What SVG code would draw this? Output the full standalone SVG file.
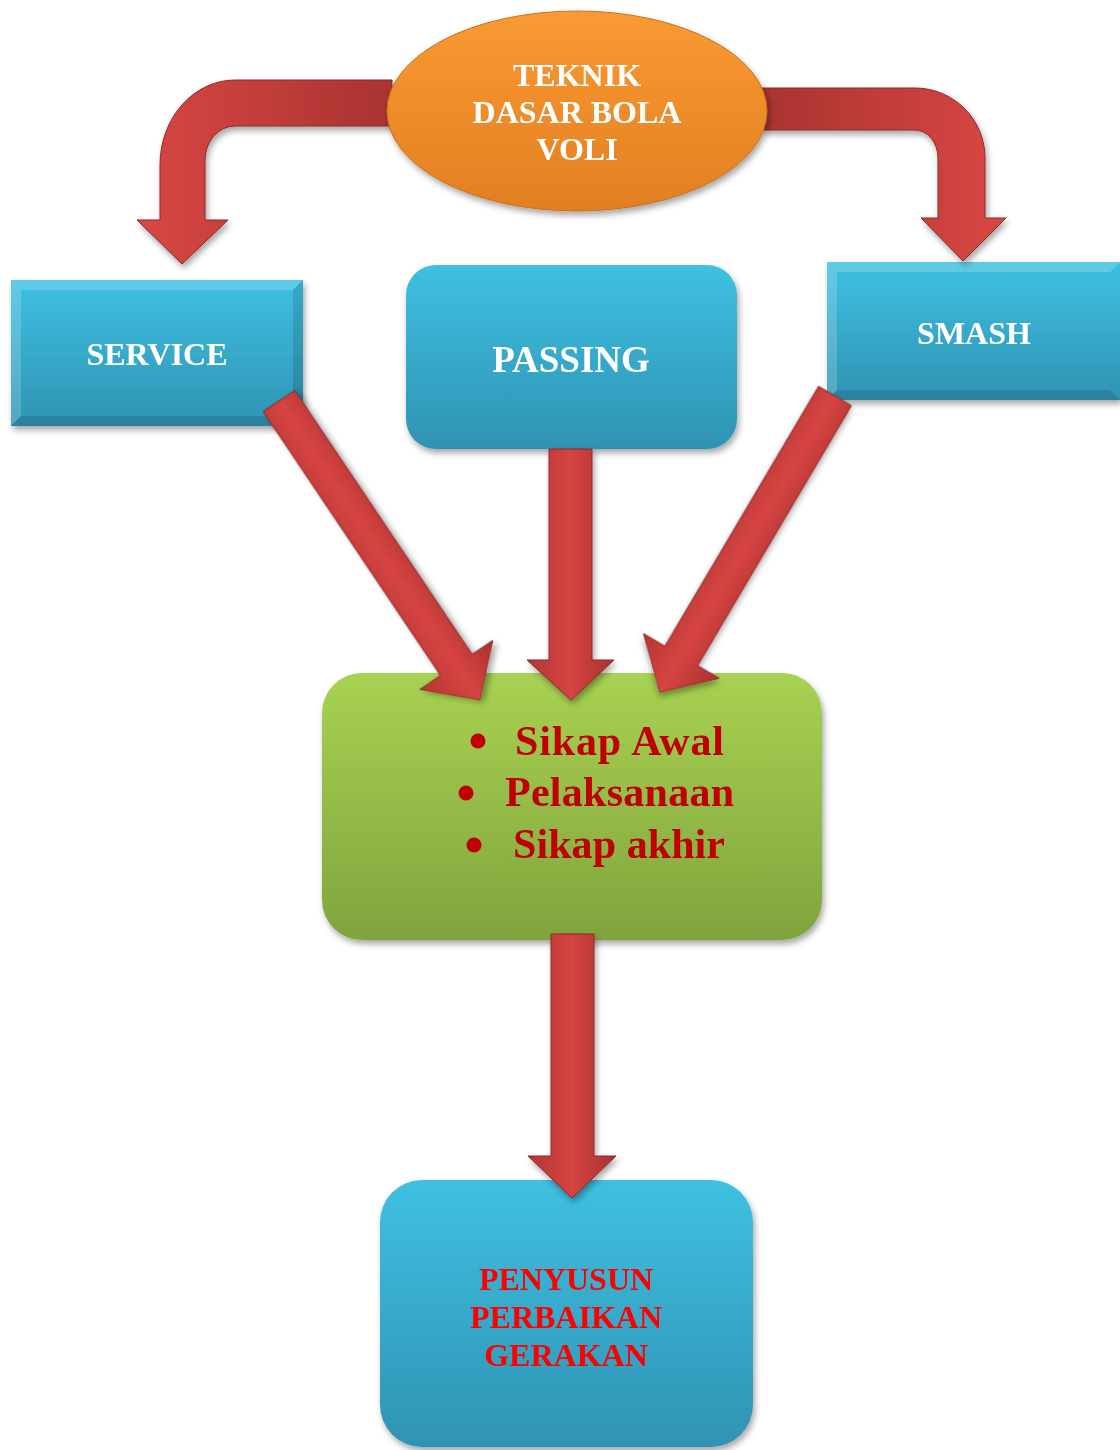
<svg xmlns="http://www.w3.org/2000/svg" width="1120" height="1450" viewBox="0 0 1120 1450">
<defs>
<linearGradient id="blue" x1="0" y1="0" x2="0" y2="1"><stop offset="0" stop-color="#3FC0E2"/><stop offset="1" stop-color="#2F93B3"/></linearGradient>
<linearGradient id="green" x1="0" y1="0" x2="0" y2="1"><stop offset="0" stop-color="#A8D252"/><stop offset="1" stop-color="#80A43D"/></linearGradient>
<linearGradient id="orange" x1="0" y1="0" x2="0" y2="1"><stop offset="0" stop-color="#FA9A32"/><stop offset="1" stop-color="#E27F22"/></linearGradient>
<linearGradient id="redv" x1="0" y1="0" x2="1" y2="0"><stop offset="0" stop-color="#B33533"/><stop offset="0.5" stop-color="#D64442"/><stop offset="1" stop-color="#A83130"/></linearGradient>
<linearGradient id="redh" x1="0" y1="0" x2="1" y2="0"><stop offset="0" stop-color="#D94744"/><stop offset="1" stop-color="#A93331"/></linearGradient>
<linearGradient id="redh2" x1="0" y1="0" x2="1" y2="0"><stop offset="0" stop-color="#A93331"/><stop offset="1" stop-color="#D94744"/></linearGradient>
<filter id="sh" x="-10%" y="-10%" width="120%" height="125%"><feDropShadow dx="2" dy="4" stdDeviation="3" flood-color="#000" flood-opacity="0.35"/></filter>
</defs>
<style>
.t{font-family:"Liberation Serif","Times New Roman",serif;font-weight:bold;text-anchor:middle}
.w{fill:#FFFFFF;font-size:32px}
.g{fill:#C00000;font-size:42px;font-family:"Liberation Serif","Times New Roman",serif;font-weight:bold}
.b{fill:#C00000}
.r{fill:#FF0000;font-size:32px}
.arrow{stroke:#8E2826;stroke-width:1;filter:url(#sh)}
.hl{fill:#FFFFFF;opacity:0.18}
.dk{fill:#000000;opacity:0.12}
</style>
<rect width="1120" height="1450" fill="#FFFFFF"/>

<g id="service" filter="url(#sh)">
<rect x="11" y="280" width="292" height="146" fill="url(#blue)"/>
<polygon class="hl" points="11,280 303,280 293,290 21,290"/>
<polygon class="hl" points="11,280 21,290 21,416 11,426"/>
<polygon class="dk" points="303,280 303,426 293,416 293,290"/>
<polygon class="dk" points="11,426 303,426 293,416 21,416"/>
<text class="t w" x="157" y="365">SERVICE</text>
</g>

<g id="smash" filter="url(#sh)">
<rect x="827" y="262" width="293" height="138" fill="url(#blue)"/>
<polygon class="hl" points="827,262 1120,262 1110,272 837,272"/>
<polygon class="hl" points="827,262 837,272 837,390 827,400"/>
<polygon class="dk" points="827,400 1120,400 1110,390 837,390"/>
<text class="t w" x="974" y="344">SMASH</text>
</g>

<g id="passing" filter="url(#sh)">
<rect x="406" y="265" width="331" height="184" rx="30" fill="url(#blue)"/>
<text class="t w" x="571" y="372" style="font-size:37px">PASSING</text>
</g>

<g id="aspek" filter="url(#sh)">
<rect x="322" y="673" width="500" height="267" rx="40" fill="url(#green)"/>
<circle class="b" cx="478" cy="741" r="7.5"/>
<circle class="b" cx="466" cy="793" r="7.5"/>
<circle class="b" cx="474" cy="845" r="7.5"/>
<text class="g" x="515" y="755" textLength="209">Sikap Awal</text>
<text class="g" x="505" y="806" textLength="229">Pelaksanaan</text>
<text class="g" x="513" y="858" textLength="212">Sikap akhir</text>
</g>

<g id="penyusun" filter="url(#sh)">
<rect x="380" y="1180" width="373" height="267" rx="42" fill="url(#blue)"/>
<text class="t r" x="566" y="1290">PENYUSUN</text>
<text class="t r" x="566" y="1328">PERBAIKAN</text>
<text class="t r" x="566" y="1366">GERAKAN</text>
</g>

<g id="connectors">
<path class="arrow" fill="url(#redh)" d="M 392 80 L 235 80 A 75 85 0 0 0 160 165 L 160 220 L 137 220 L 182 264 L 228 220 L 205 220 L 205 160 A 30 34 0 0 1 235 126 L 392 126 Z"/>
<path class="arrow" fill="url(#redh2)" d="M 762 88 L 915 88 A 70 70 0 0 1 985 158 L 985 218 L 1006 218 L 963 261 L 921 218 L 938 218 L 938 158 A 23 28 0 0 0 915 130 L 762 130 Z"/>
<path class="arrow" fill="url(#redv)" transform="translate(279 401) rotate(-33.9)" d="M -19 0 L 19 0 L 19 318 L 44 318 L 0 360 L -44 318 L -19 318 Z"/>
<path class="arrow" fill="url(#redv)" transform="translate(835 396) rotate(30.6)" d="M -19 0 L 19 0 L 19 302 L 44 302 L 0 344 L -44 302 L -19 302 Z"/>
<path class="arrow" fill="url(#redv)" d="M 549 449 L 592 449 L 592 660 L 614 660 L 571 700 L 527 660 L 549 660 Z"/>
<path class="arrow" fill="url(#redv)" d="M 551 934 L 594 934 L 594 1156 L 616 1156 L 572 1198 L 528 1156 L 551 1156 Z"/>
</g>

<g id="teknik" filter="url(#sh)">
<ellipse cx="577" cy="111" rx="190" ry="100" fill="url(#orange)" stroke="#C8701C" stroke-width="1"/>
<text class="t w" x="577" y="86">TEKNIK</text>
<text class="t w" x="577" y="123">DASAR BOLA</text>
<text class="t w" x="577" y="160">VOLI</text>
</g>
</svg>
